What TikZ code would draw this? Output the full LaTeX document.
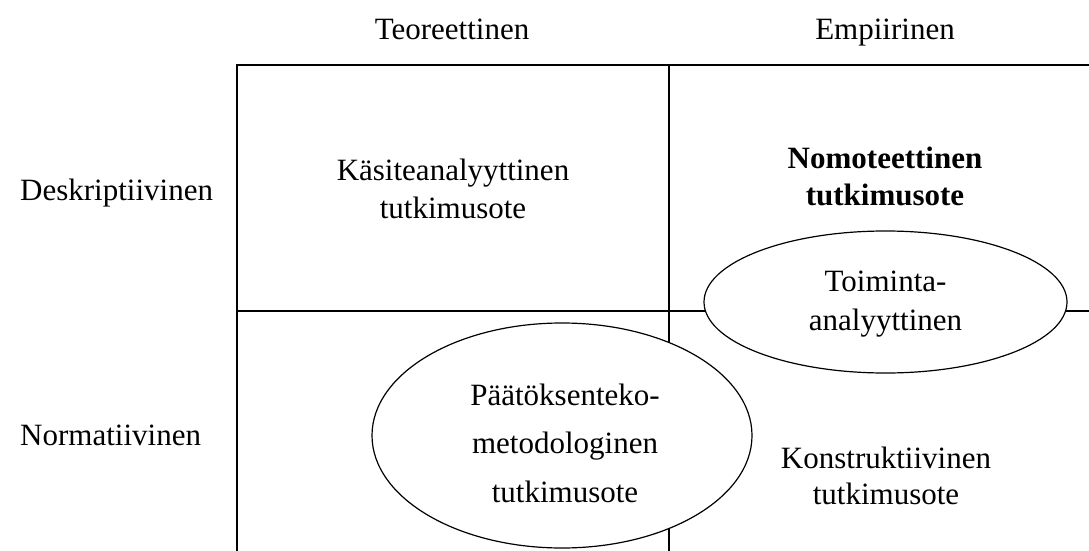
\documentclass[tikz,border=0pt]{standalone}
\usepackage{fontspec}
\setmainfont{Liberation Serif}
\usetikzlibrary{shapes.geometric}
\begin{document}
\begin{tikzpicture}[x=1pt,y=-1pt,
  gridline/.style={line width=1.7pt},
  ovalbox/.style={ellipse,draw,line width=1.2pt,fill=white,inner sep=0pt},
  lbl/.style={inner sep=0pt,align=center,font=\fontsize{31}{38}\selectfont}]
\useasboundingbox (0,0) rectangle (1089,551);
% grid corners
\coordinate (tl) at (237,65);
\coordinate (tr) at (1089,65);
\coordinate (bl) at (237,551);
\coordinate (tm) at (669,65);
\coordinate (bm) at (669,551);
\coordinate (ml) at (237,311);
\coordinate (mr) at (1089,311);
\draw[gridline] (bl) -- (tl) -- (tr);
\draw[gridline] (tm) -- (bm);
\draw[gridline] (ml) -- (mr);
% column / row headers
\node[lbl,anchor=base] (teo) at (452,40) {Teoreettinen};
\node[lbl,anchor=base] (emp) at (885,40) {Empiirinen};
\node[lbl,anchor=base west] (desk) at (20,200) {Deskriptiivinen};
\node[lbl,anchor=base west] (norm) at (20,445) {Normatiivinen};
% cells
\node[lbl] (kasite) at (453,189) {Käsiteanalyyttinen\\tutkimusote};
\node[lbl,font=\fontsize{31}{37}\selectfont\bfseries] (nomo) at (885,176) {Nomoteettinen\\tutkimusote};
\node[ovalbox,minimum width=363pt,minimum height=142pt] (toim) at (885.5,302) {};
\node[lbl,font=\fontsize{31}{39}\selectfont] (toimtxt) at (885.5,304) {Toiminta-\\analyyttinen};
\node[ovalbox,minimum width=380pt,minimum height=225pt] (paat) at (562,435.5) {};
\node[lbl,font=\fontsize{31}{48.5}\selectfont] (paattxt) at (565,443) {Päätöksenteko-\\metodologinen\\tutkimusote};
\node[lbl,font=\fontsize{31}{36}\selectfont] (konst) at (886,476) {Konstruktiivinen\\tutkimusote};
\end{tikzpicture}
\end{document}
